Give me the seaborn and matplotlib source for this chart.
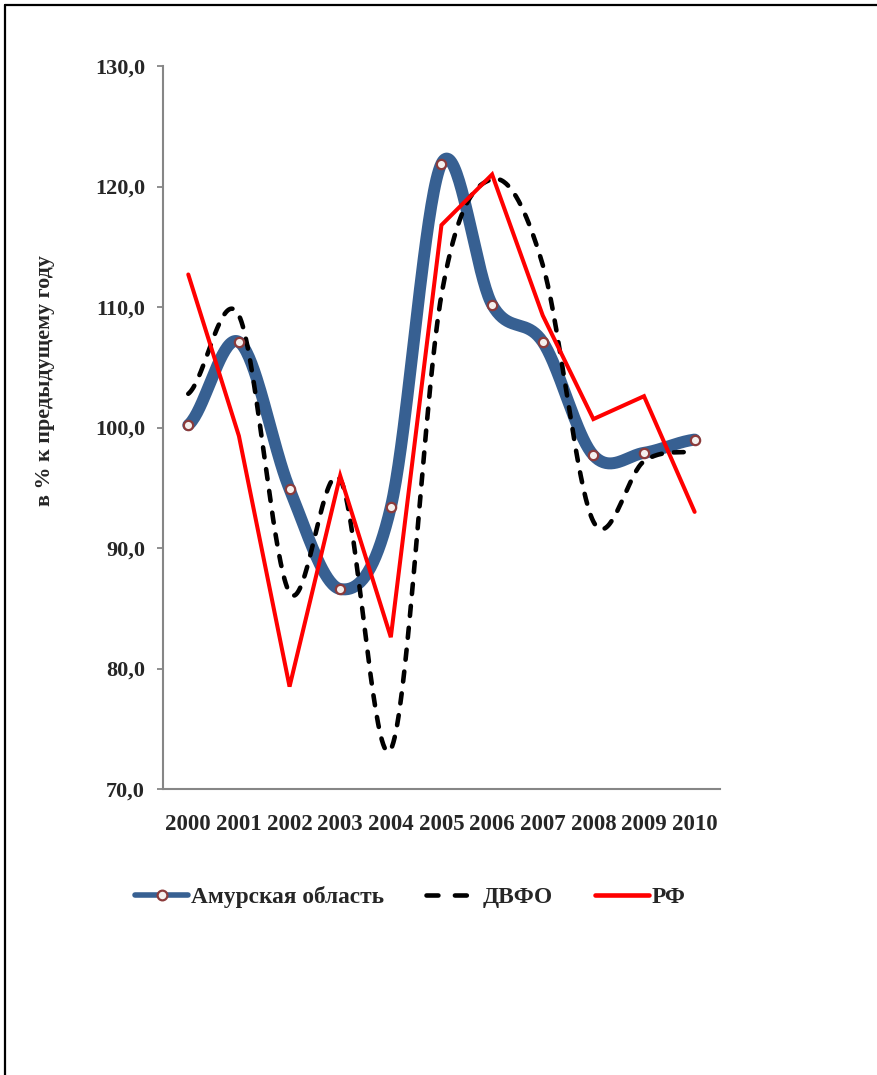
import numpy as np
import pandas as pd
import matplotlib
matplotlib.use("Agg")
import matplotlib.pyplot as plt
from matplotlib.lines import Line2D
import seaborn as sns

# values (% к предыдущему году)
YEARS = ["2000", "2001", "2002", "2003", "2004", "2005",
         "2006", "2007", "2008", "2009", "2010"]
AMUR = [100.2, 107.1, 94.9, 86.6, 93.4, 121.9, 110.2, 107.1, 97.7, 97.9, 99.0]
DVFO = [102.8, 109.3, 86.3, 95.7, 73.3, 111.0, 120.6, 113.5, 92.2, 97.2, 98.0]
RF = [112.7, 99.3, 78.5, 96.0, 82.6, 116.8, 121.0, 109.3, 100.7, 102.6, 93.0]
Y_TICKS = [70, 80, 90, 100, 110, 120, 130]

BLUE = "#376092"
MARK_EDGE = "#8c3b3b"
FONT = "Liberation Serif"


def smooth(vals, steps=40):
    # Excel-like smoothed line (Catmull-Rom through the points)
    y = np.asarray(vals, dtype=float)
    ext = np.concatenate([[y[0]], y, [y[-1]]])
    t = np.linspace(0, 1, steps, endpoint=False)
    h00 = 2 * t**3 - 3 * t**2 + 1
    h10 = t**3 - 2 * t**2 + t
    h01 = -2 * t**3 + 3 * t**2
    h11 = t**3 - t**2
    xs, ys = [], []
    for i in range(len(y) - 1):
        p0, p1, p2, p3 = ext[i:i + 4]
        m1 = (p2 - p0) / 2
        m2 = (p3 - p1) / 2
        xs.append(i + t)
        ys.append(h00 * p1 + h10 * m1 + h01 * p2 + h11 * m2)
    xs.append([len(y) - 1])
    ys.append([y[-1]])
    return np.concatenate(xs), np.concatenate(ys)


sns.set_theme(style="white")
plt.rcParams["font.family"] = [FONT, "DejaVu Serif"]
plt.rcParams["font.weight"] = "bold"

fig = plt.figure(figsize=(8.78, 10.75), dpi=100)
ax = fig.add_axes([0.1856, 0.2660, 0.6344, 0.6726])

pos = np.arange(len(YEARS))
xa, ya = smooth(AMUR)
xd, yd = smooth(DVFO)

sns.lineplot(x=xa, y=ya, ax=ax, color=BLUE, lw=8.6, sort=False,
             solid_capstyle="round", solid_joinstyle="round", zorder=2)
sns.scatterplot(x=pos, y=AMUR, ax=ax, marker="o", s=45, color="#f4f0ee",
                edgecolor=MARK_EDGE, linewidth=1.6, zorder=5)
sns.lineplot(x=xd, y=yd, ax=ax, color="black", lw=3.3, sort=False,
             dashes=False, zorder=3)
ax.lines[-1].set_dashes((2.2, 2.6))
ax.lines[-1].set_dash_capstyle("round")
sns.lineplot(x=pos, y=RF, ax=ax, color="#ff0000", lw=2.9, sort=False,
             solid_joinstyle="miter", zorder=4)

ax.set_xlim(-0.5, len(YEARS) - 0.5)
ax.set_ylim(70, 130)
ax.set_yticks(Y_TICKS)
ax.set_yticklabels([f"{v:.1f}".replace(".", ",") for v in Y_TICKS],
                   fontsize=16, fontweight="bold")
ax.set_xticks(np.arange(-0.5, len(YEARS)), labels=[])
ax.set_xticks(pos, labels=YEARS, minor=True)
for lab in ax.get_xticklabels(minor=True):
    lab.set_fontsize(16.5)
    lab.set_fontweight("bold")

ax.tick_params(axis="x", which="major", direction="out", length=5,
               width=1.3, color="#868686")
ax.tick_params(axis="x", which="minor", length=0, pad=18)
ax.tick_params(axis="y", direction="out", length=4, width=1.3,
               color="#868686", pad=9, left=True)
for side in ["top", "right"]:
    ax.spines[side].set_visible(False)
for side in ["left", "bottom"]:
    ax.spines[side].set_color("#868686")
    ax.spines[side].set_linewidth(1.5)
ax.set_xlabel("")
ax.set_ylabel("")
ax.grid(False)

fig.text(45 / 878, 1 - 381 / 1075, "в % к предыдущему году", rotation=90,
         ha="center", va="center", fontsize=15.8, fontweight="bold")

handles = [
    Line2D([], [], color=BLUE, lw=4, marker="o", markersize=7,
           markerfacecolor="#f4f0ee", markeredgecolor=MARK_EDGE,
           markeredgewidth=1.6),
    Line2D([], [], color="black", lw=3.3, dashes=(2.6, 3.6),
           dash_capstyle="round"),
    Line2D([], [], color="#ff0000", lw=3.3),
]
fig.legend(handles, ["Амурская область", "ДВФО", "РФ"], loc="center",
           bbox_to_anchor=(0.467, 0.1656), ncol=3, frameon=False,
           prop={"family": FONT, "weight": "bold", "size": 16.8},
           handlelength=2.3, handletextpad=0.12, columnspacing=1.8)

# page frame on the left and top
fig.add_artist(Line2D([5 / 878, 5 / 878], [0, 1 - 5 / 1075],
                      transform=fig.transFigure, color="black", lw=1.6))
fig.add_artist(Line2D([5 / 878, 1], [1 - 5 / 1075, 1 - 5 / 1075],
                      transform=fig.transFigure, color="black", lw=1.6))

fig.savefig("out.png", dpi=100)
